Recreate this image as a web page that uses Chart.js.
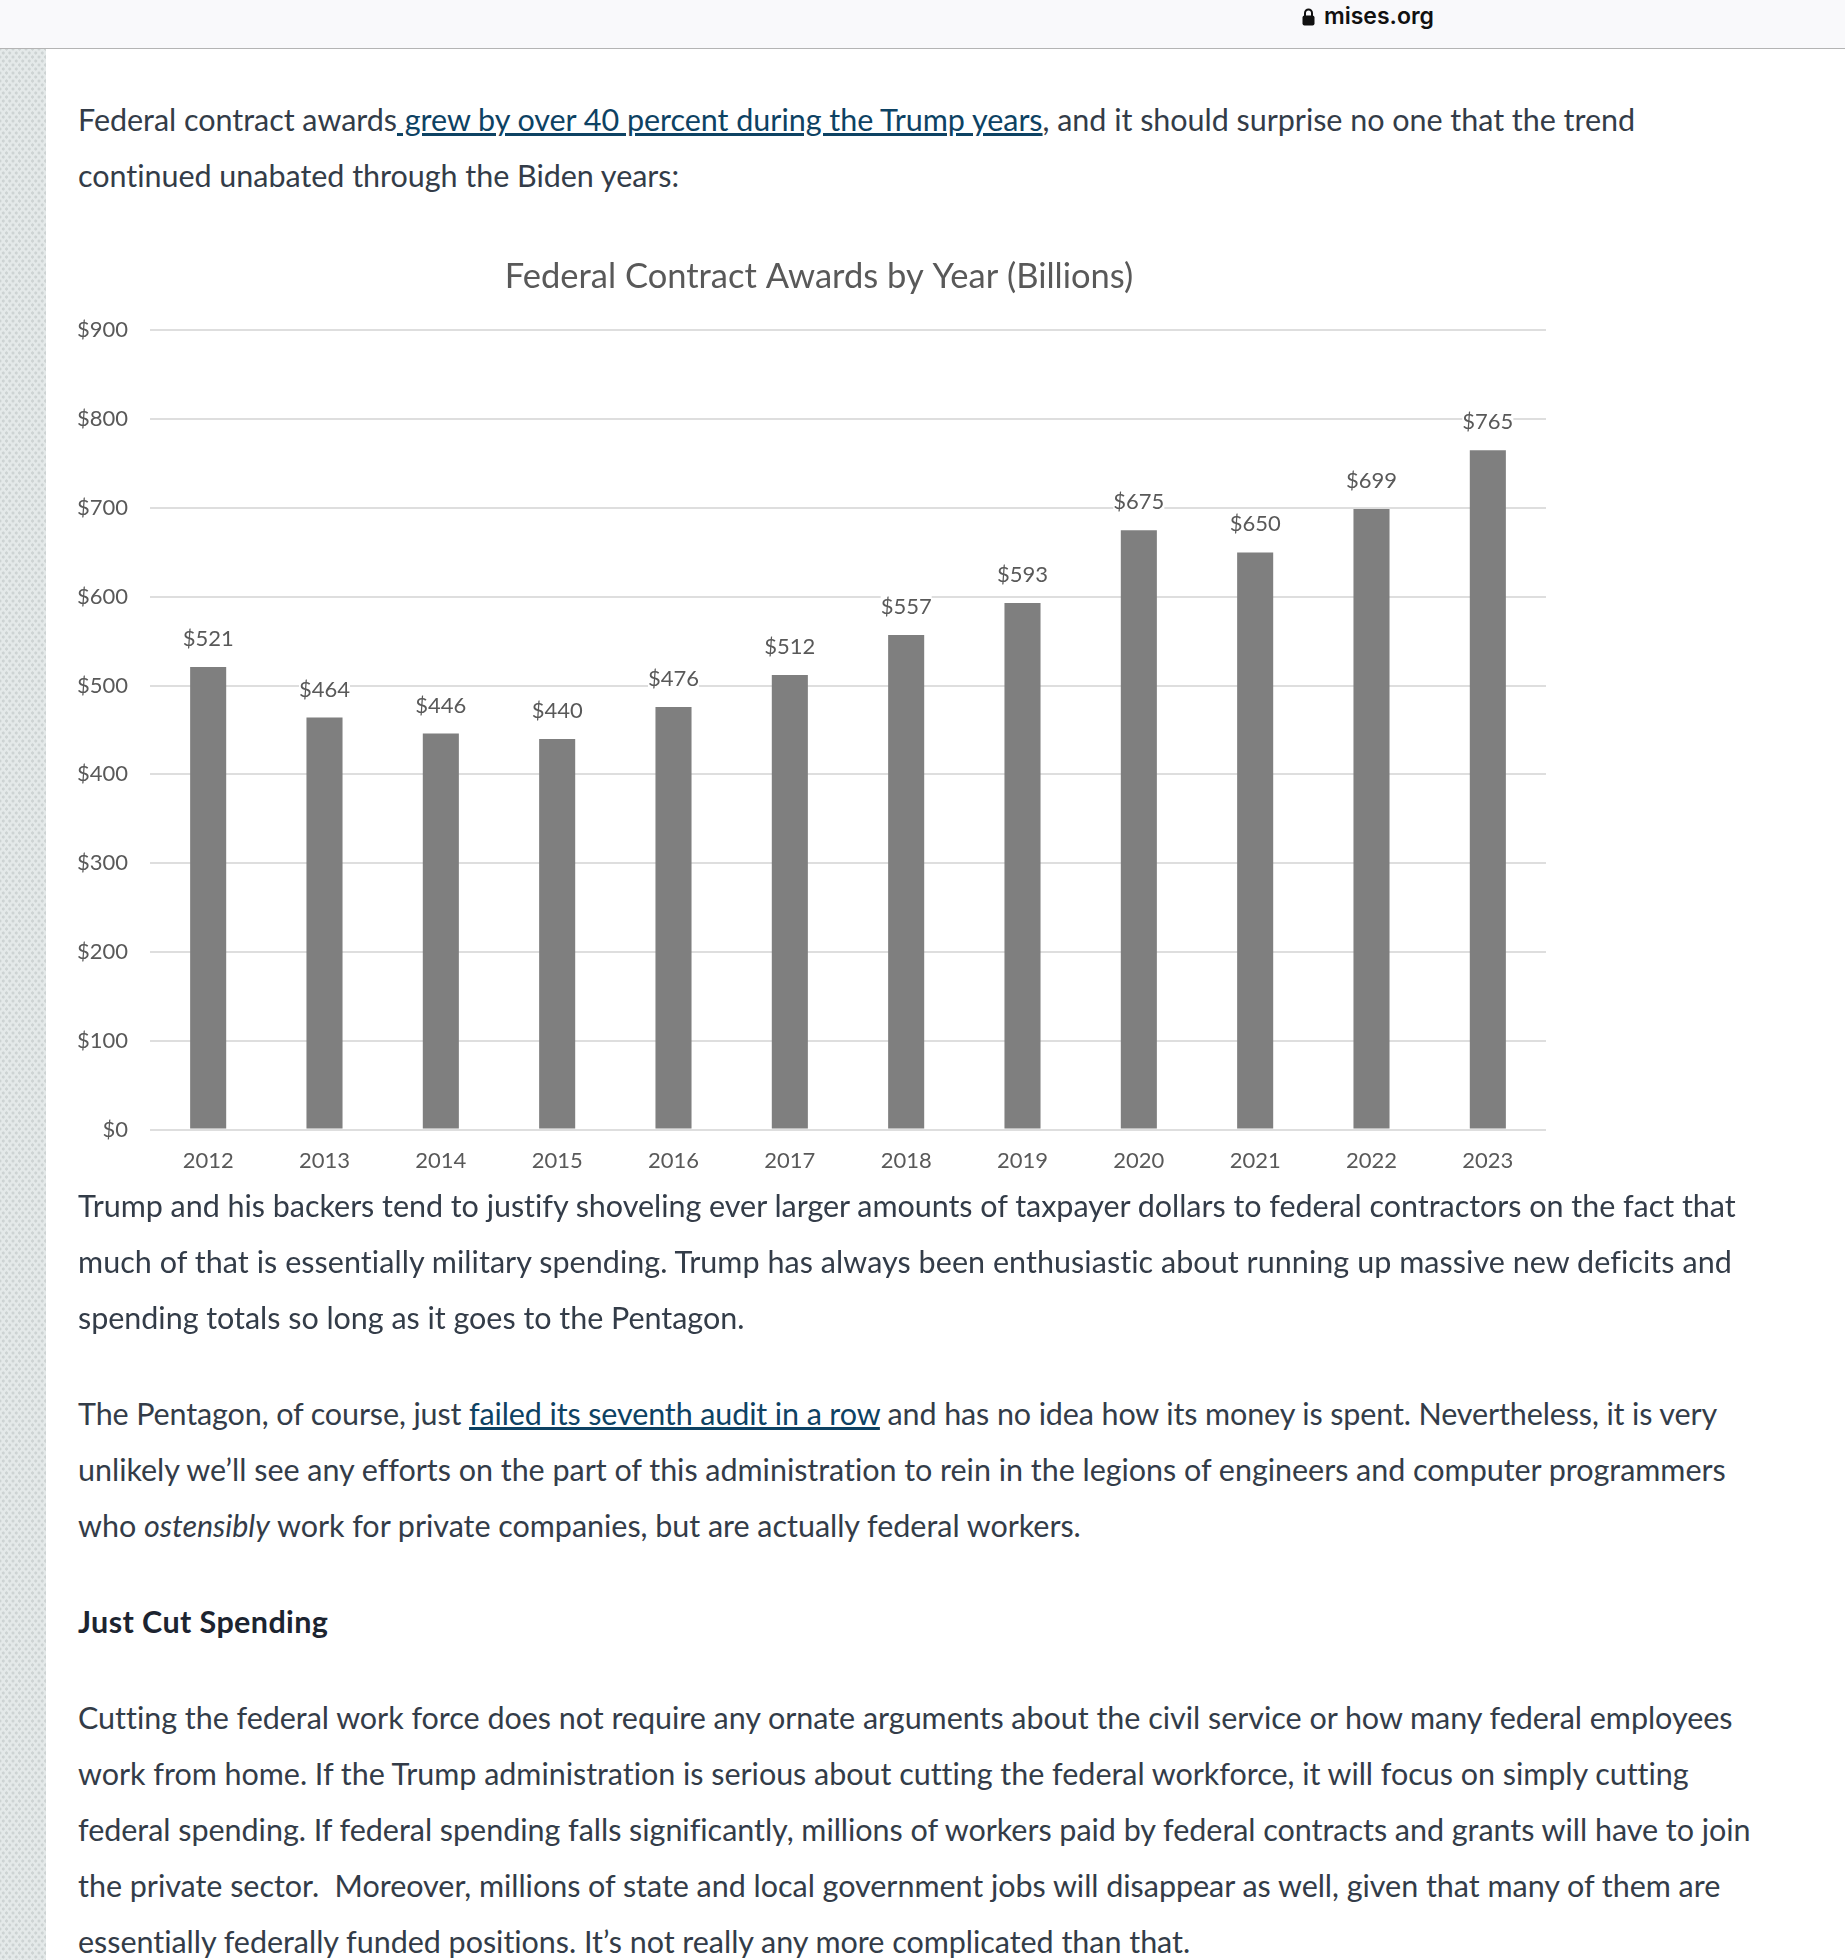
<!DOCTYPE html>
<html>
<head>
<meta charset="utf-8">
<title>Federal Contract Awards</title>
<script src="https://cdn.jsdelivr.net/npm/chart.js@4"></script>
<style>
  html, body { margin: 0; padding: 0; background: #fff; }
  body { width: 1845px; height: 1960px; position: relative; overflow: hidden; font-family: Lato, sans-serif; }
  #topbar { position: absolute; left: 0; top: 0; width: 1845px; height: 48px; background: #f9f9fb; border-bottom: 1px solid #b4b4b4; }
  #site { position: absolute; left: 1324px; top: 2px; font: 600 23px Inter, sans-serif; color: #111; }
  #lock { position: absolute; left: 1302px; top: 8px; width: 13px; height: 18px; }
  #strip { position: absolute; left: 0; top: 49px; width: 46px; height: 1911px;
    background-color: #e4e9e9;
    background-image: radial-gradient(circle, #cdd3d3 1.4px, transparent 1.8px), radial-gradient(circle, #cdd3d3 1.4px, transparent 1.8px);
    background-size: 6.5px 8px;
    background-position: 0 0, 3.25px 4px; }
  .txt { position: absolute; left: 78px; color: #333c48; font-size: 30.5px; line-height: 56px; white-space: nowrap; letter-spacing: -0.03px; }
  .txt a { color: #0d4263; text-decoration: underline; text-decoration-thickness: 2.5px; }
  #chartBox { position: absolute; left: 78px; top: 230px; width: 1482px; height: 962px; }
</style>
</head>
<body>
<div id="topbar"></div>
<svg id="lock" viewBox="0 0 13 18"><path d="M3 8V5a3.5 3.5 0 0 1 7 0v3" fill="none" stroke="#111" stroke-width="2"/><rect x="0.5" y="7.5" width="12" height="10" rx="2" fill="#111"/></svg>
<div id="site">mises.org</div>
<div id="strip"></div>

<div class="txt" style="top:91px">Federal contract awards<a href="#"> grew by over 40 percent during the Trump years</a>, and it should surprise no one that the trend<br>continued unabated through the Biden years:</div>

<div id="chartBox"><canvas id="awardsChart"></canvas></div>

<div class="txt" style="top:1177px">Trump and his backers tend to justify shoveling ever larger amounts of taxpayer dollars to federal contractors on the fact that<br><span style="letter-spacing:0.05px">much of that is essentially military spending. Trump has always been enthusiastic about running up massive new deficits and</span><br>spending totals so long as it goes to the Pentagon.</div>

<div class="txt" style="top:1385px"><span style="letter-spacing:-0.12px">The Pentagon, of course, just <a href="#">failed its seventh audit in a row</a> and has no idea how its money is spent. Nevertheless, it is very</span><br>unlikely we’ll see any efforts on the part of this administration to rein in the legions of engineers and computer programmers<br>who <i>ostensibly</i> work for private companies, but are actually federal workers.</div>

<div class="txt" style="top:1593px;font-weight:700;color:#1c2430;letter-spacing:0.4px">Just Cut Spending</div>

<div class="txt" style="top:1689px">Cutting the federal work force does not require any ornate arguments about the civil service or how many federal employees<br>work from home. If the Trump administration is serious about cutting the federal workforce, it will focus on simply cutting<br>federal spending. If federal spending falls significantly, millions of workers paid by federal contracts and grants will have to join<br>the private sector.&nbsp; Moreover, millions of state and local government jobs will disappear as well, given that many of them are<br>essentially federally funded positions. It’s not really any more complicated than that.</div>

<script>
const years = ['2012', '2013', '2014', '2015', '2016', '2017', '2018', '2019', '2020', '2021', '2022', '2023'];
const awards = [521, 464, 446, 440, 476, 512, 557, 593, 675, 650, 699, 765];
const yMax = 900;
const yStep = 100;

// value labels above the bars
const barLabels = {
    id: 'barLabels',
    afterDatasetsDraw(chart) {
        const ctx = chart.ctx;
        ctx.save();
        ctx.font = '22px Lato, sans-serif';
        ctx.textAlign = 'center';
        ctx.textBaseline = 'middle';
        chart.getDatasetMeta(0).data.forEach(function (bar, i) {
            ctx.fillStyle = '#ffffff';
            const w = ctx.measureText('$' + awards[i]).width;
            ctx.fillRect(bar.x - w / 2, bar.y - 40, w, 24);
            ctx.fillStyle = '#595959';
            ctx.fillText('$' + awards[i], bar.x, bar.y - 28);
        });
        ctx.restore();
    }
};

new Chart(document.getElementById('awardsChart').getContext('2d'), {
    type: 'bar',
    data: {
        labels: years,
        datasets: [{
            data: awards,
            backgroundColor: '#7f7f7f',
            categoryPercentage: 1,
            barPercentage: 0.31
        }]
    },
    options: {
        responsive: true,
        maintainAspectRatio: false,
        animation: false,
        layout: { padding: { bottom: 8 } },
        plugins: {
            legend: { display: false },
            tooltip: { enabled: false },
            title: {
                display: true,
                text: 'Federal Contract Awards by Year (Billions)',
                color: '#595959',
                font: { family: 'Lato, sans-serif', size: 34.5, weight: 'normal' },
                padding: { top: 26, bottom: 33 }
            }
        },
        scales: {
            x: {
                grid: { display: false },
                border: { display: false },
                ticks: { color: '#595959', font: { family: 'Lato, sans-serif', size: 22 }, padding: 10, maxRotation: 0 }
            },
            y: {
                min: 0,
                max: yMax,
                afterFit(scale) { scale.width = 72; },
                grid: { color: '#dedede', lineWidth: 2, drawTicks: false },
                border: { display: false },
                ticks: {
                    stepSize: yStep,
                    color: '#595959',
                    padding: 22,
                    font: { family: 'Lato, sans-serif', size: 22 },
                    callback: function (v) { return '$' + v; }
                }
            },
            // empty axis, keeps the plot short of the right edge while the title stays centred on the canvas
            gutter: {
                position: 'right',
                min: 0,
                max: yMax,
                afterFit(scale) { scale.width = 14; },
                grid: { display: false },
                border: { display: false },
                ticks: { display: false }
            }
        }
    },
    plugins: [barLabels]
});
</script>
</body>
</html>
